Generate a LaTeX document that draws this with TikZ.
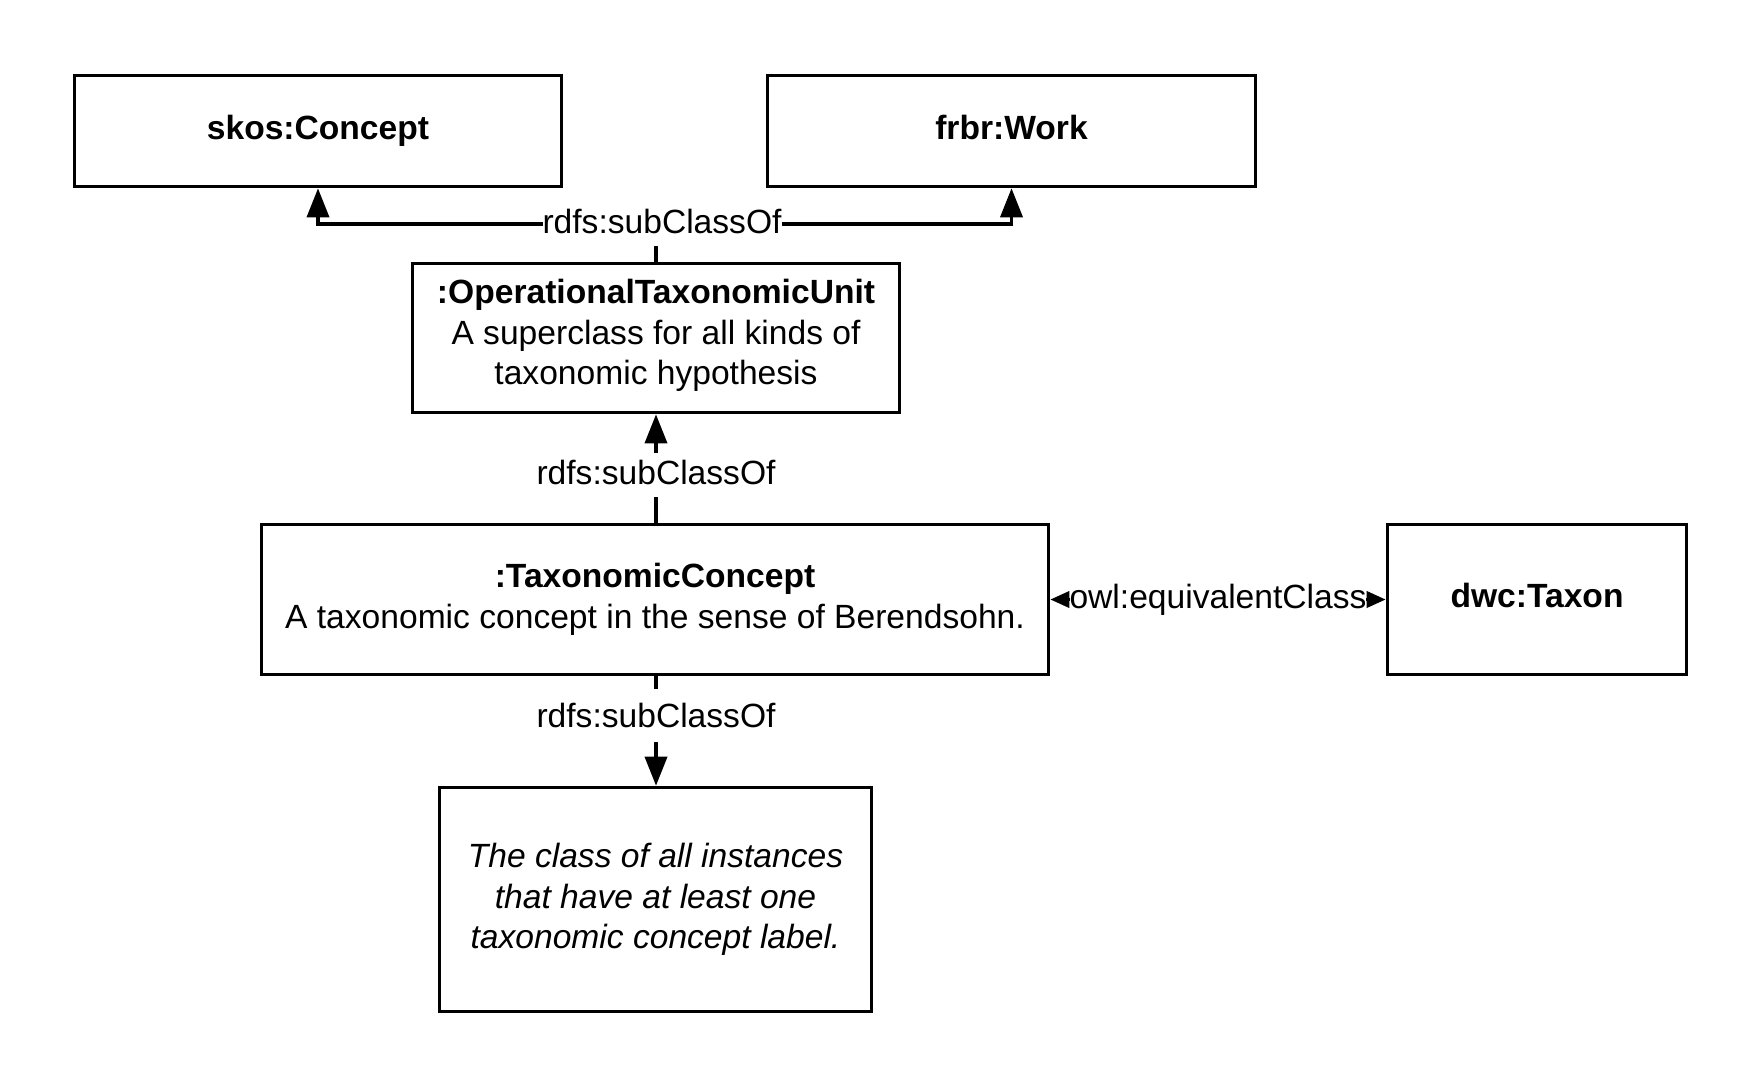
\documentclass[tikz,border=0pt]{standalone}
\usepackage{fontspec}
\setmainfont{Liberation Sans}
\usetikzlibrary{arrows.meta,calc}
\begin{document}
\begin{tikzpicture}[x=1pt,y=-1pt,
  box/.style={draw=black, line width=3.6pt, align=center, inner sep=0pt,
    font=\fontsize{33.6}{40.5}\selectfont},
  conn/.style={line width=3.6pt},
  subarr/.style={conn, -{Triangle[length=29pt,width=22pt]}},
  lbl/.style={fill=white, inner xsep=0pt, font=\fontsize{33.6}{40.5}\selectfont},
  eqtip/.style={conn, {Triangle[length=19pt,width=16pt]}-{Triangle[length=19pt,width=16pt]}}
]
\useasboundingbox (0,0) rectangle (1763,1088);
\node[box, minimum width=487pt, minimum height=111pt] (skos) at (318,131) {\strut\textbf{skos:Concept}};
\node[box, minimum width=488pt, minimum height=111pt] (frbr) at (1011.5,131) {\strut\textbf{frbr:Work}};
\node[box, minimum width=487pt, minimum height=149pt] (otu) at (656,338)
  {\textbf{:OperationalTaxonomicUnit}\\A superclass for all kinds of\\taxonomic hypothesis\rule[-11.5pt]{0pt}{0pt}};
\node[box, minimum width=787pt, minimum height=150pt] (tc) at (655,599.5)
  {\textbf{:TaxonomicConcept}\\A taxonomic concept in the sense of Berendsohn.};
\node[box, minimum width=299pt, minimum height=150pt] (dwc) at (1537,599.5) {\strut\textbf{dwc:Taxon}};
\node[box, minimum width=432pt, minimum height=224pt] (inst) at (655.5,899.5)
  {\itshape The class of all instances\\\itshape that have at least one\\\itshape taxonomic concept label.};
% connectors
\coordinate (junc) at (656,224);
\draw[subarr] (otu.north) -- (junc) -| (skos.south);
\draw[subarr] (junc) -| (frbr.south);
\draw[subarr] (tc.north -| otu.south) -- (otu.south);
\draw[subarr] (tc.south -| otu.south) -- (otu.south |- inst.north);
\draw[eqtip] (tc.east) -- (dwc.west);
% labels
\node[lbl, inner ysep=13pt] (l1) at (662,221) {rdfs:subClassOf};
\node[lbl, inner ysep=0pt, text height=31.25pt, text depth=12.75pt] (l2) at (656,475) {rdfs:subClassOf};
\node[lbl, inner ysep=14.25pt] (l3) at (656,715.5) {rdfs:subClassOf};
\node[lbl, inner ysep=4pt] (l4) at ($(tc.east)!0.5!(dwc.west)$) {owl:equivalentClass};
\end{tikzpicture}
\end{document}
